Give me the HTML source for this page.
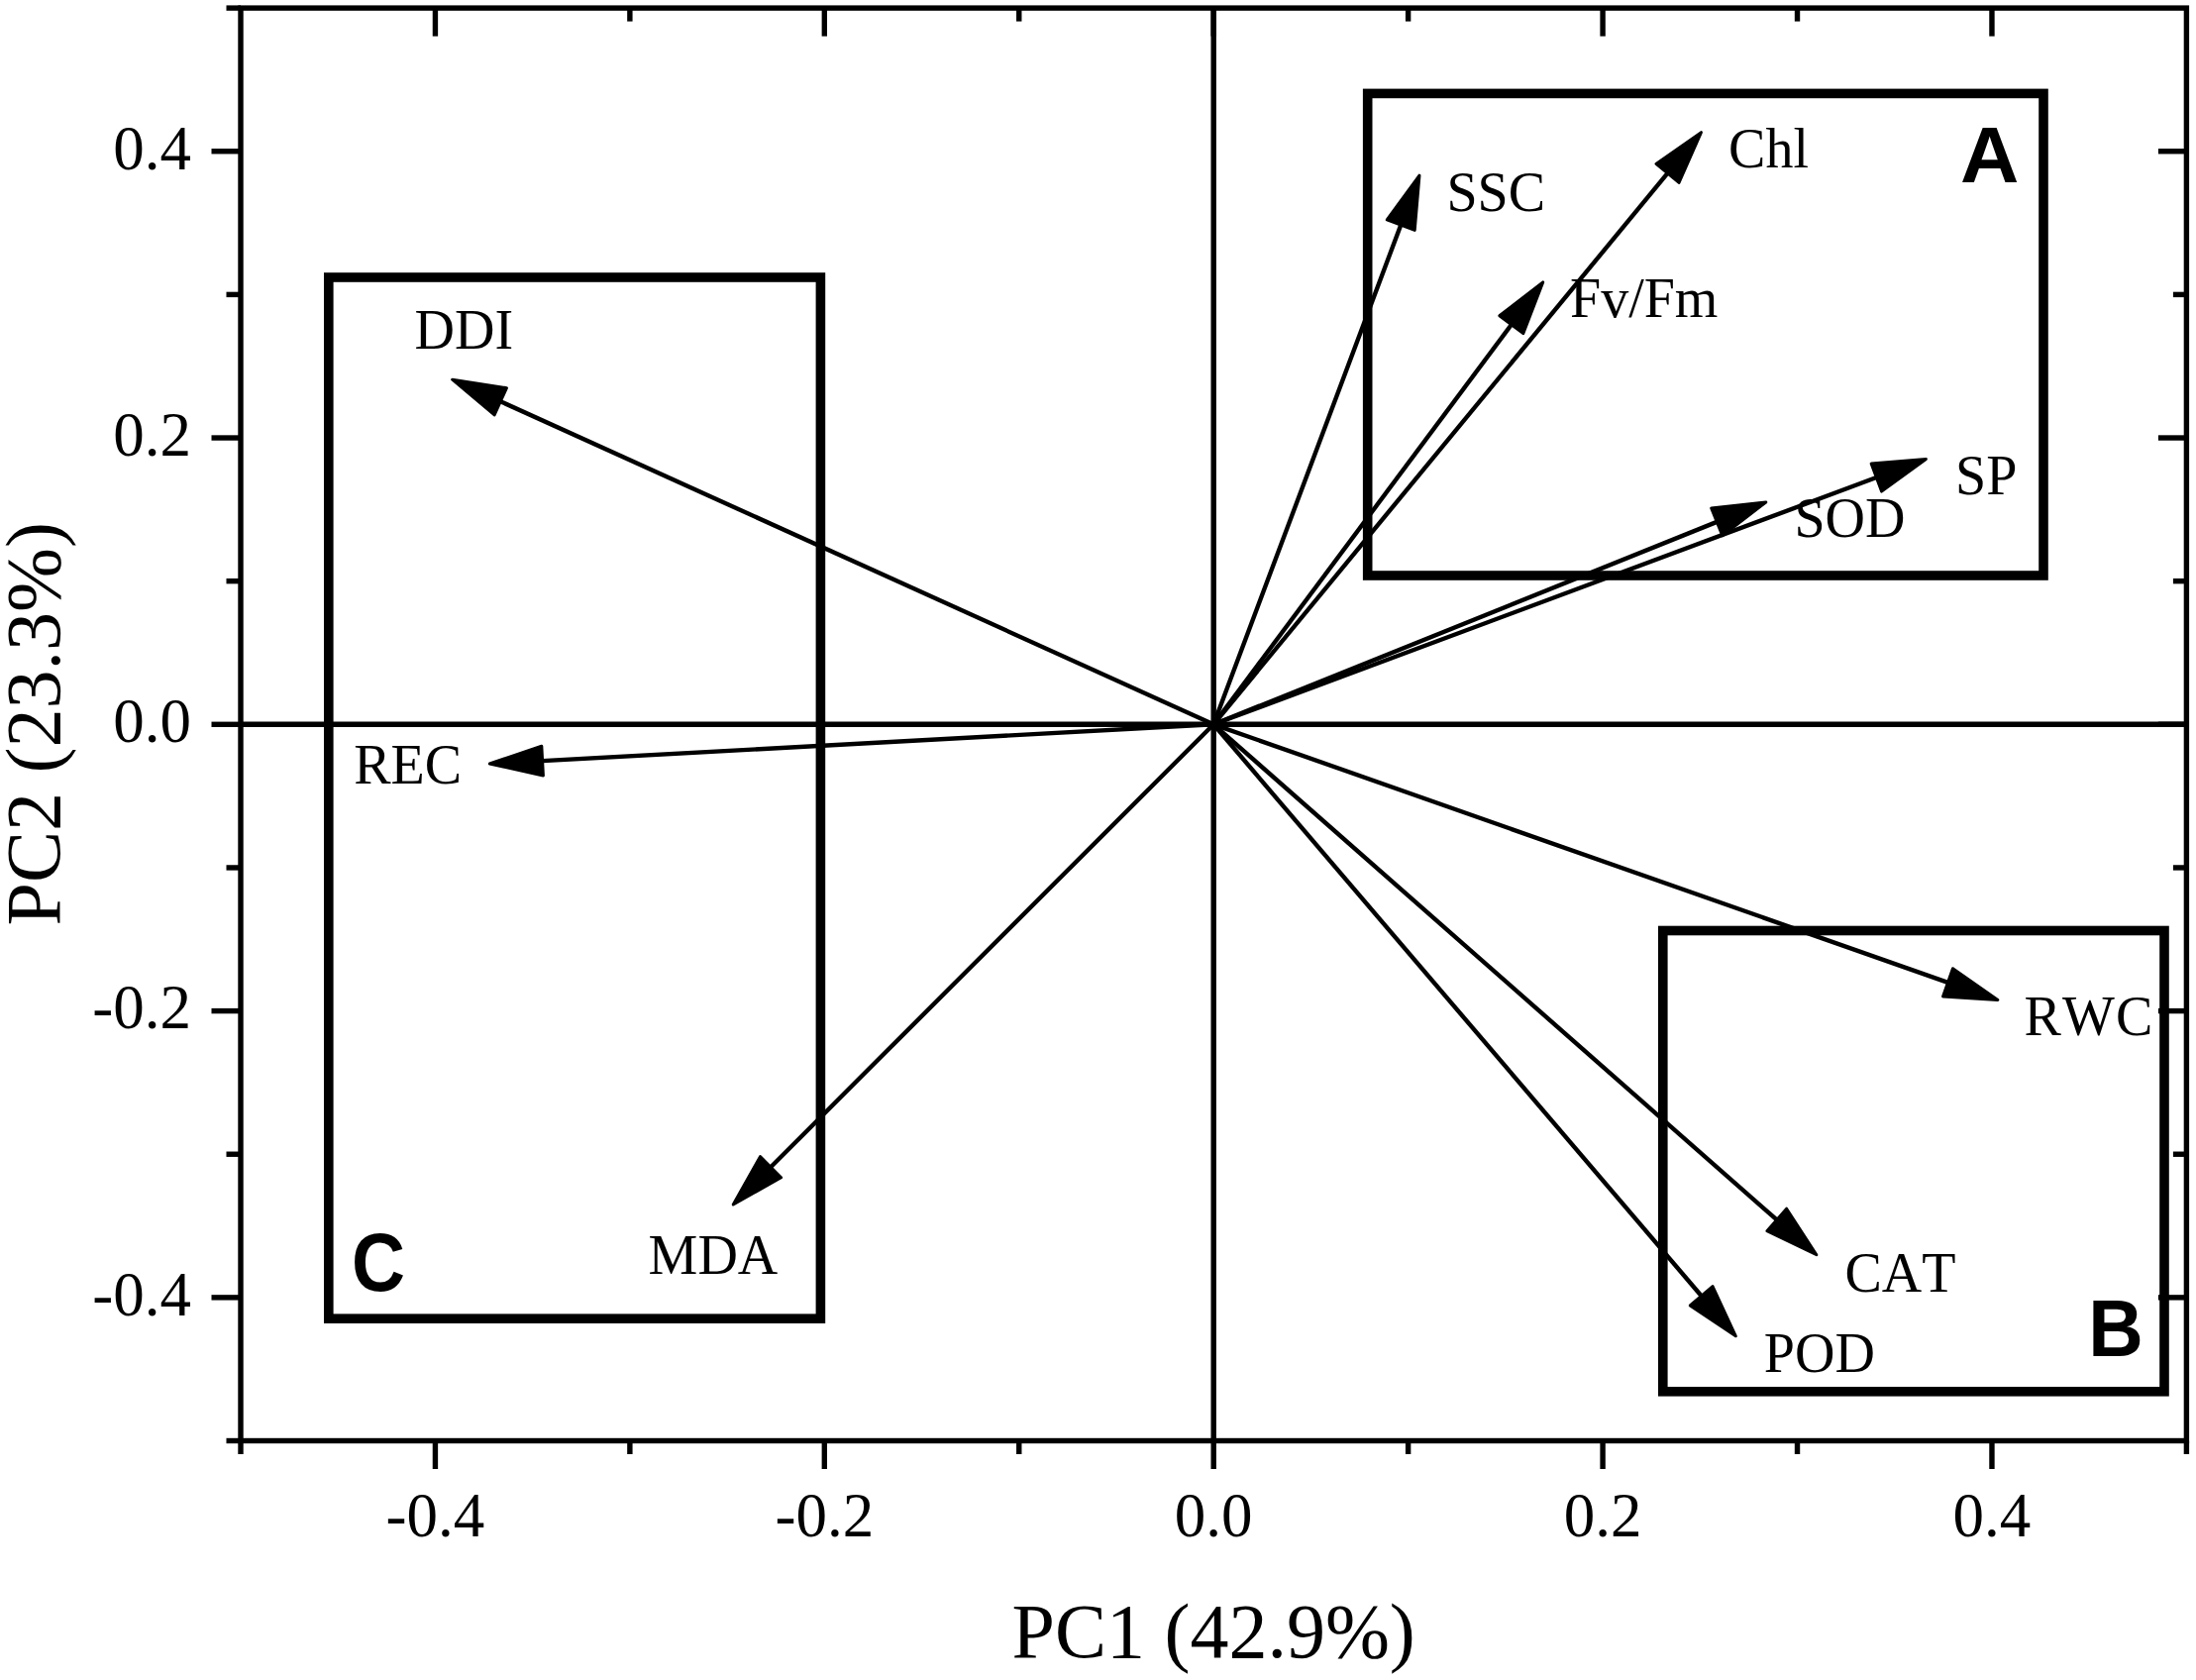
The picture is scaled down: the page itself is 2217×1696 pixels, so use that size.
<!DOCTYPE html>
<html><head><meta charset="utf-8"><title>PCA biplot</title>
<style>html,body{margin:0;padding:0;background:#fff;}body{width:2217px;height:1696px;overflow:hidden;}svg{display:block;}text{font-kerning:none;}</style>
</head><body>
<svg width="2217" height="1696" viewBox="0 0 2217 1696">
<rect x="0" y="0" width="2217" height="1696" fill="#fff"/>
<g stroke="#000" stroke-width="5.4" stroke-linecap="butt" fill="none">
<rect x="243.0" y="8.1" width="1964.4" height="1446.4"/>
<line x1="243.0" y1="731.30" x2="2207.4" y2="731.30"/>
<line x1="1225.20" y1="8.1" x2="1225.20" y2="1454.5"/>
<line x1="243.00" y1="1454.5" x2="243.00" y2="1468.0"/>
<line x1="243.0" y1="1454.50" x2="228.5" y2="1454.50"/>
<line x1="439.44" y1="1454.5" x2="439.44" y2="1483.0"/>
<line x1="439.44" y1="8.1" x2="439.44" y2="36.6"/>
<line x1="243.0" y1="1309.86" x2="213.5" y2="1309.86"/>
<line x1="2207.4" y1="1309.86" x2="2178.9" y2="1309.86"/>
<line x1="635.88" y1="1454.5" x2="635.88" y2="1468.0"/>
<line x1="635.88" y1="8.1" x2="635.88" y2="21.6"/>
<line x1="243.0" y1="1165.22" x2="228.5" y2="1165.22"/>
<line x1="2207.4" y1="1165.22" x2="2193.9" y2="1165.22"/>
<line x1="832.32" y1="1454.5" x2="832.32" y2="1483.0"/>
<line x1="832.32" y1="8.1" x2="832.32" y2="36.6"/>
<line x1="243.0" y1="1020.58" x2="213.5" y2="1020.58"/>
<line x1="2207.4" y1="1020.58" x2="2178.9" y2="1020.58"/>
<line x1="1028.76" y1="1454.5" x2="1028.76" y2="1468.0"/>
<line x1="1028.76" y1="8.1" x2="1028.76" y2="21.6"/>
<line x1="243.0" y1="875.94" x2="228.5" y2="875.94"/>
<line x1="2207.4" y1="875.94" x2="2193.9" y2="875.94"/>
<line x1="1225.20" y1="1454.5" x2="1225.20" y2="1483.0"/>
<line x1="1225.20" y1="8.1" x2="1225.20" y2="36.6"/>
<line x1="243.0" y1="731.30" x2="213.5" y2="731.30"/>
<line x1="2207.4" y1="731.30" x2="2178.9" y2="731.30"/>
<line x1="1421.64" y1="1454.5" x2="1421.64" y2="1468.0"/>
<line x1="1421.64" y1="8.1" x2="1421.64" y2="21.6"/>
<line x1="243.0" y1="586.66" x2="228.5" y2="586.66"/>
<line x1="2207.4" y1="586.66" x2="2193.9" y2="586.66"/>
<line x1="1618.08" y1="1454.5" x2="1618.08" y2="1483.0"/>
<line x1="1618.08" y1="8.1" x2="1618.08" y2="36.6"/>
<line x1="243.0" y1="442.02" x2="213.5" y2="442.02"/>
<line x1="2207.4" y1="442.02" x2="2178.9" y2="442.02"/>
<line x1="1814.52" y1="1454.5" x2="1814.52" y2="1468.0"/>
<line x1="1814.52" y1="8.1" x2="1814.52" y2="21.6"/>
<line x1="243.0" y1="297.38" x2="228.5" y2="297.38"/>
<line x1="2207.4" y1="297.38" x2="2193.9" y2="297.38"/>
<line x1="2010.96" y1="1454.5" x2="2010.96" y2="1483.0"/>
<line x1="2010.96" y1="8.1" x2="2010.96" y2="36.6"/>
<line x1="243.0" y1="152.74" x2="213.5" y2="152.74"/>
<line x1="2207.4" y1="152.74" x2="2178.9" y2="152.74"/>
<line x1="2207.40" y1="1454.5" x2="2207.40" y2="1468.0"/>
<line x1="243.0" y1="8.10" x2="228.5" y2="8.10"/>
</g>
<g stroke="#000" stroke-width="9.6" fill="none" stroke-linejoin="miter">
<rect x="1380.7" y="94.4" width="682.3" height="486.6"/>
<rect x="1678.8" y="939.5" width="506.2" height="465.3"/>
<rect x="331.8" y="280.0" width="496.6" height="1051.2"/>
</g>
<g stroke="#000" stroke-width="4.4" fill="#000">
<line x1="1225.20" y1="731.30" x2="1414.22" y2="227.20"/>
<polygon stroke-width="3.0" stroke-linejoin="round" points="1432.97,177.20 1428.22,232.45 1400.23,221.96"/>
<line x1="1225.20" y1="731.30" x2="1683.50" y2="174.88"/>
<polygon stroke-width="3.0" stroke-linejoin="round" points="1717.45,133.66 1695.04,184.38 1671.96,165.37"/>
<line x1="1225.20" y1="731.30" x2="1525.80" y2="327.73"/>
<polygon stroke-width="3.0" stroke-linejoin="round" points="1557.70,284.90 1537.79,336.66 1513.82,318.80"/>
<line x1="1225.20" y1="731.30" x2="1733.27" y2="526.89"/>
<polygon stroke-width="3.0" stroke-linejoin="round" points="1782.81,506.96 1738.85,540.76 1727.69,513.02"/>
<line x1="1225.20" y1="731.30" x2="1894.35" y2="482.06"/>
<polygon stroke-width="3.0" stroke-linejoin="round" points="1944.39,463.42 1899.57,496.07 1889.13,468.05"/>
<line x1="1225.20" y1="731.30" x2="1966.50" y2="991.80"/>
<polygon stroke-width="3.0" stroke-linejoin="round" points="2016.88,1009.50 1961.55,1005.90 1971.46,977.69"/>
<line x1="1225.20" y1="731.30" x2="1793.78" y2="1231.44"/>
<polygon stroke-width="3.0" stroke-linejoin="round" points="1833.87,1266.71 1783.90,1242.67 1803.65,1220.21"/>
<line x1="1225.20" y1="731.30" x2="1717.66" y2="1308.24"/>
<polygon stroke-width="3.0" stroke-linejoin="round" points="1752.33,1348.86 1706.29,1317.95 1729.03,1298.54"/>
<line x1="1225.20" y1="731.30" x2="778.03" y2="1178.19"/>
<polygon stroke-width="3.0" stroke-linejoin="round" points="740.26,1215.94 767.46,1167.62 788.60,1188.77"/>
<line x1="1225.20" y1="731.30" x2="547.62" y2="768.12"/>
<polygon stroke-width="3.0" stroke-linejoin="round" points="494.30,771.02 546.81,753.19 548.43,783.05"/>
<line x1="1225.20" y1="731.30" x2="505.31" y2="405.25"/>
<polygon stroke-width="3.0" stroke-linejoin="round" points="456.67,383.22 511.48,391.63 499.14,418.87"/>
</g>
<g font-family="'Liberation Serif', 'Times New Roman', serif" font-size="63" fill="#000">
<text x="439.44" y="1550.5" text-anchor="middle">-0.4</text>
<text x="193" y="1327.66" text-anchor="end">-0.4</text>
<text x="832.32" y="1550.5" text-anchor="middle">-0.2</text>
<text x="193" y="1038.38" text-anchor="end">-0.2</text>
<text x="1225.20" y="1550.5" text-anchor="middle">0.0</text>
<text x="193" y="749.10" text-anchor="end">0.0</text>
<text x="1618.08" y="1550.5" text-anchor="middle">0.2</text>
<text x="193" y="459.82" text-anchor="end">0.2</text>
<text x="2010.96" y="1550.5" text-anchor="middle">0.4</text>
<text x="193" y="170.54" text-anchor="end">0.4</text>
</g>
<g font-family="'Liberation Serif', 'Times New Roman', serif" font-size="78" fill="#000">
<text x="1225.20" y="1673" text-anchor="middle">PC1 (42.9%)</text>
<text transform="translate(60.2,730.8) rotate(-90)" text-anchor="middle">PC2 (23.3%)</text>
</g>
<g font-family="'Liberation Serif', 'Times New Roman', serif" font-size="56" fill="#000">
<text x="1460.4" y="213.4">SSC</text>
<text x="1745.1" y="169.1">Chl</text>
<text x="1585.0" y="320.2">Fv/Fm</text>
<text x="1811.4" y="542.4">SOD</text>
<text x="1974.1" y="499.2">SP</text>
<text x="2043.5" y="1045.0" letter-spacing="1.2">RWC</text>
<text x="1862.4" y="1304.0">CAT</text>
<text x="1780.8" y="1385.0">POD</text>
<text x="654.6" y="1286.2">MDA</text>
<text x="357.2" y="790.9">REC</text>
<text x="418.5" y="352.3">DDI</text>
</g>
<g font-family="'Liberation Sans', Arial, sans-serif" font-weight="bold" font-size="80" fill="#000">
<text transform="translate(1978.96,183.9) scale(1.027,1.0)">A</text>
<text transform="translate(2108.16,1369.0) scale(0.961,1.016)">B</text>
<text transform="translate(355.03,1303.1) scale(0.935,1.031)">C</text>
</g>
</svg>
</body></html>
